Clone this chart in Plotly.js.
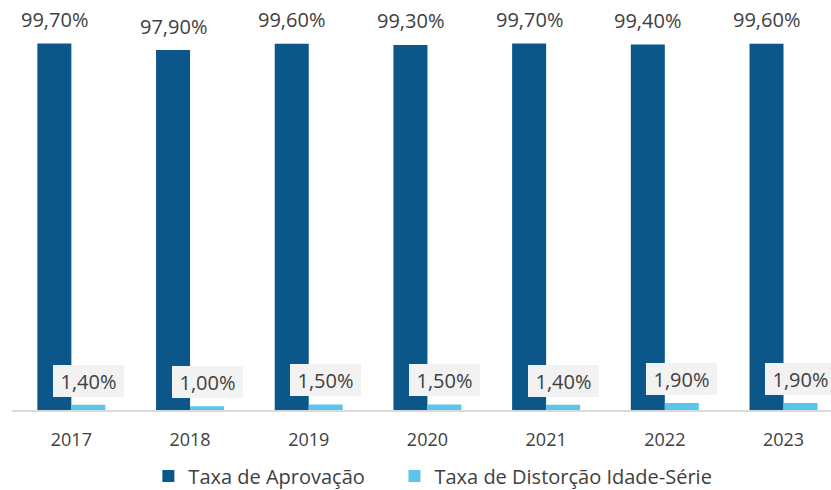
<!DOCTYPE html>
<html><head><meta charset="utf-8">
<script src="https://cdn.plot.ly/plotly-3.0.1.min.js"></script>
<style>body{margin:0;background:#fff}#chart{width:831px;height:490px}</style>
</head><body><div id="chart"></div>
<script>
const years = ['2017','2018','2019','2020','2021','2022','2023'];
const aprovacao = [99.7, 97.9, 99.6, 99.3, 99.7, 99.4, 99.6];
const distorcao = [1.4, 1.0, 1.5, 1.5, 1.4, 1.9, 1.9];
const seriesNames = ['Taxa de Aprovação', 'Taxa de Distorção Idade-Série'];
const colors = ['#0C5789', '#5CC6EA'];

const fmt = v => v.toFixed(2).replace('.', ',') + '%';
const font = 'Open Sans, sans-serif';

const traces = [
  {type:'bar', x: years, y: aprovacao, name: seriesNames[0], marker:{color:colors[0]}, hoverinfo:'skip', legend:'legend'},
  {type:'bar', x: years, y: distorcao, name: seriesNames[1], marker:{color:colors[1]}, hoverinfo:'skip', legend:'legend2'}
];

const annotations = [];
years.forEach((yr, i) => {
  annotations.push({x: i, y: aprovacao[i], xref:'x', yref:'y', text: fmt(aprovacao[i]),
    showarrow:false, xshift:-17, yshift:24, yanchor:'middle', xanchor:'center',
    font:{family:font, size:20, color:'#404040'}});
  annotations.push({x: i, y: distorcao[i], xref:'x', yref:'y', text: fmt(distorcao[i]),
    showarrow:false, xshift:17, yshift:24, yanchor:'middle', xanchor:'center',
    bgcolor:'#F2F2F2', borderpad:0, borderwidth:0, width:71, height:32,
    font:{family:font, size:20, color:'#404040'}});
});

const legendBase = {orientation:'h', xanchor:'left', yref:'container', y:0.0286, yanchor:'middle',
  font:{family:font, size:20, color:'#404040'}, bgcolor:'rgba(0,0,0,0)'};

const layout = {
  width: 831, height: 490,
  margin: {l:12, r:0, t:24, b:80, autoexpand:false},
  paper_bgcolor:'#fff', plot_bgcolor:'#fff',
  barmode:'group', bargap:0.427, bargroupgap:0,
  font:{family:font, color:'#404040'},
  xaxis:{type:'category', range:[-0.5, 6.4], showline:true, linecolor:'#D9D9D9', linewidth:2,
    showgrid:false, zeroline:false, ticks:'', ticklabelstandoff:12,
    tickfont:{family:font, size:18, color:'#404040'}},
  yaxis:{range:[0,105], showticklabels:false, showgrid:false, zeroline:false, showline:false, ticks:''},
  showlegend:true,
  legend:Object.assign({x:0.1665}, legendBase),
  legend2:Object.assign({x:0.467}, legendBase),
  annotations: annotations
};

Plotly.newPlot('chart', traces, layout, {displayModeBar:false, staticPlot:true});
</script></body></html>
